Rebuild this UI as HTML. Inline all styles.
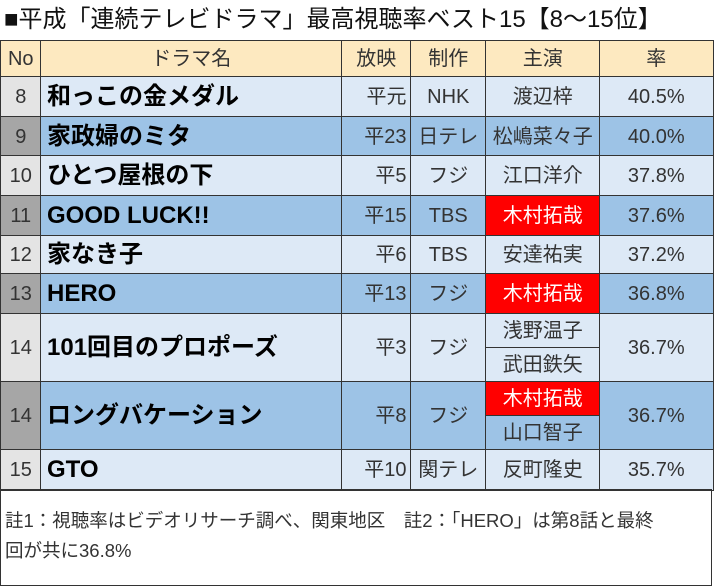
<!DOCTYPE html>
<html><head><meta charset="utf-8"><style>
body{margin:0;width:714px;height:587px;background:#fff;overflow:hidden;font-family:"Liberation Sans","Noto Sans CJK JP",sans-serif;color:#333}
.c{position:absolute;box-sizing:border-box;border:1.5px solid #333;display:flex;align-items:center;justify-content:center;font-size:20px;white-space:nowrap;line-height:1}
.c span{display:block;line-height:1;padding-top:1px}
.L{background:#dde9f6}.D{background:#9dc3e6}.H{background:#fde9c0}.nL{background:#e4e4e4}.nD{background:#a6a6a6}
.t{justify-content:flex-start;padding-left:6px;font-weight:bold;font-size:24px;color:#000}
.r{justify-content:flex-end;padding-right:4px}
.red{background:#f00;color:#fff}
</style></head><body>
<div style="position:absolute;left:4px;top:5px;font-size:24px;line-height:30px;color:#111">■平成「連続テレビドラマ」最高視聴率ベスト15【8～15位】</div>
<div id="t"></div>
<div class="c" style="left:0;top:489px;width:712px;height:97px;display:block;padding:16px 0 0 4px;font-size:18.5px;line-height:30px;white-space:nowrap">註1：視聴率はビデオリサーチ調べ、関東地区　註2：「HERO」は第8話と最終<br>回が共に36.8%</div>
<script>
var X=[0,40,341,410,485,599,712];
var H='';
function cell(x0,x1,y0,y1,cls,txt){H+='<div class="c '+cls+'" style="left:'+X[x0]+'px;top:'+y0+'px;width:'+(X[x1]-X[x0]+1.5)+'px;height:'+(y1-y0+1.5)+'px"><span>'+txt+'</span></div>';}
cell(0,1,40,76,'H','No');cell(1,2,40,76,'H','ドラマ名');cell(2,3,40,76,'H','放映');cell(3,4,40,76,'H','制作');cell(4,5,40,76,'H','主演');cell(5,6,40,76,'H','率');
var R=[
[76,116,'8','和っこの金メダル','平元','NHK',['渡辺梓'],'40.5%',0],
[116,155,'9','家政婦のミタ','平23','日テレ',['松嶋菜々子'],'40.0%',1],
[155,195,'10','ひとつ屋根の下','平5','フジ',['江口洋介'],'37.8%',0],
[195,235,'11','GOOD LUCK!!','平15','TBS',['*木村拓哉'],'37.6%',1],
[235,273,'12','家なき子','平6','TBS',['安達祐実'],'37.2%',0],
[273,313,'13','HERO','平13','フジ',['*木村拓哉'],'36.8%',1],
[313,381,'14','101回目のプロポーズ','平3','フジ',['浅野温子','武田鉄矢'],'36.7%',0],
[381,449,'14','ロングバケーション','平8','フジ',['*木村拓哉','山口智子'],'36.7%',1],
[449,489,'15','GTO','平10','関テレ',['反町隆史'],'35.7%',0]];
R.forEach(function(r){var a=r[0],b=r[1],d=r[8],k=d?'D':'L';
cell(0,1,a,b,d?'nD':'nL',r[2]);cell(1,2,a,b,k+' t',r[3]);cell(2,3,a,b,k+' r',r[4]);cell(3,4,a,b,k,r[5]);
var n=r[6].length,h=(b-a)/n;r[6].forEach(function(s,i){var red=s[0]=='*';cell(4,5,Math.round(a+h*i),Math.round(a+h*(i+1)),red?'red':k,red?s.slice(1):s);});
cell(5,6,a,b,k,r[7]);});
document.getElementById('t').innerHTML=H;
</script>
</body></html>
